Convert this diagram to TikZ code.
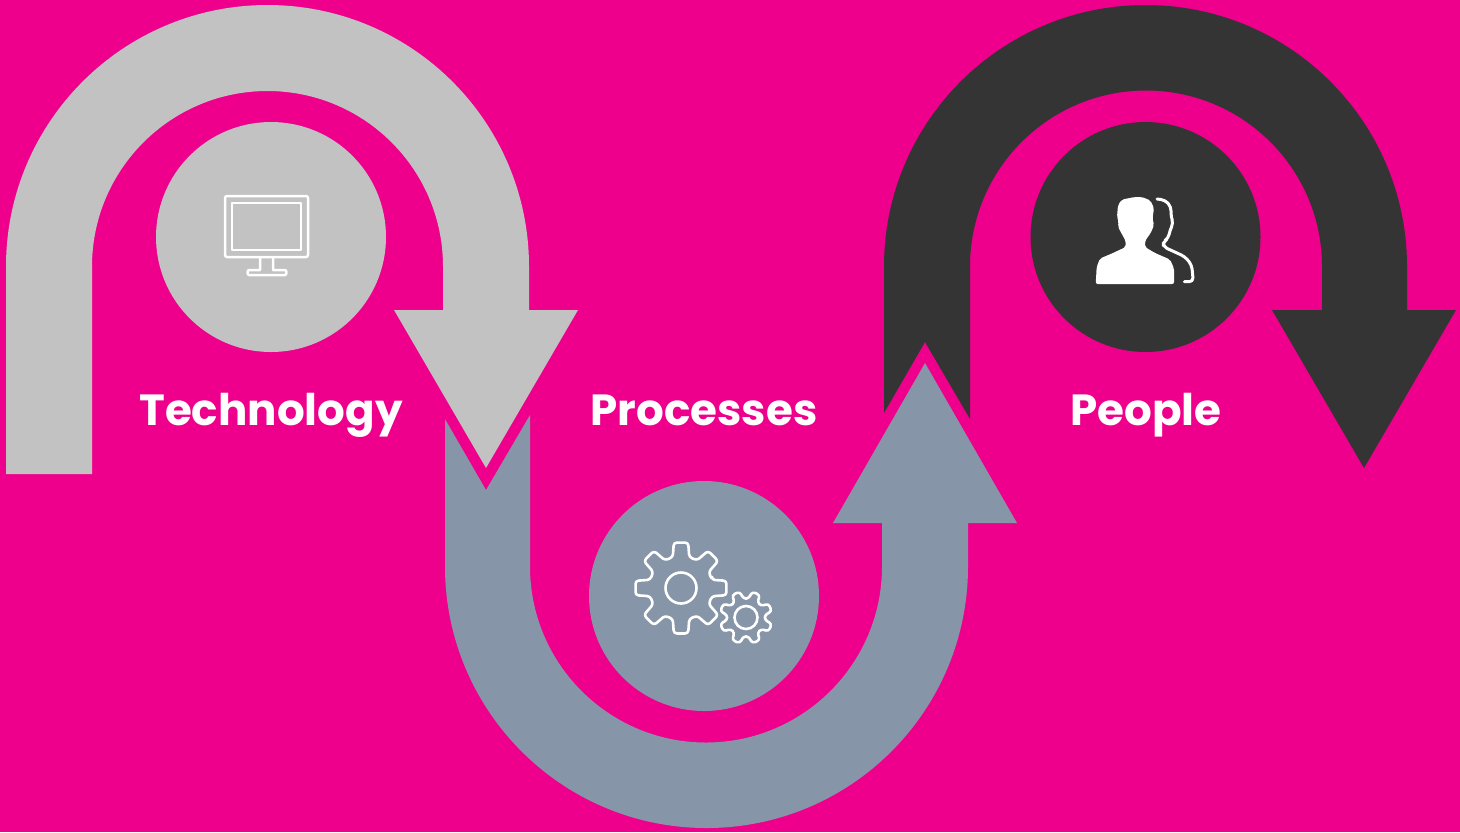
\documentclass[tikz,border=0pt]{standalone}
\usepackage{fontspec}
\setmainfont{Poppins}[BoldFont={Poppins Bold}]
\definecolor{bgpink}{HTML}{EE008C}
\definecolor{lightgrey}{HTML}{C2C2C2}
\definecolor{slateblue}{HTML}{8795A8}
\definecolor{charcoal}{HTML}{343434}
\tikzset{
  disc/.style={circle,minimum size=115pt,inner sep=0pt,fill=#1},
  lbl/.style={text=white,font=\fontsize{21.8}{25}\selectfont\bfseries,inner sep=0pt,anchor=base},
  icon/.style={draw=white,line width=1.25pt,line join=round,rounded corners=1pt},
  iconfine/.style={draw=white,line width=1.3pt,line join=round,line cap=round}
}
\newcommand{\gearpath}[5]{% centre, outer r, root r, teeth, phase
  \begin{scope}[shift={#1}]
    \pgfmathsetmacro{\stepang}{360/#4}
    \draw[iconfine,rounded corners=1.5pt]
      (#5-0.33*\stepang:#3) \foreach \k in {1,...,#4}{
        -- ({#5+(\k-1)*\stepang-0.2*\stepang}:#2)
        -- ({#5+(\k-1)*\stepang+0.2*\stepang}:#2)
        -- ({#5+(\k-1)*\stepang+0.33*\stepang}:#3)
        -- ({#5+\k*\stepang-0.33*\stepang}:#3)
      } -- cycle;
  \end{scope}}
\begin{document}
\begin{tikzpicture}[x=0.5pt,y=-0.5pt]
\useasboundingbox (0,0) rectangle (1460,832);
\fill[bgpink] (0,0) rectangle (1460,832);
% grey arrow
\fill[lightgrey] (6,474) -- (6,266.5) arc (180:360:261.5) -- (529,310) -- (578,310) -- (486,468) -- (394,310) -- (443,310) -- (443,266.5) arc (360:180:175.5) -- (92,474) -- cycle;
% blue arrow
\fill[slateblue] (445,419) -- (445,566.5) arc (180:0:261.5) -- (968,523) -- (1017,523) -- (925,363) -- (833,523) -- (882,523) -- (882,566.5) arc (0:180:176) -- (530,415) -- (486,490) -- cycle;
% dark arrow
\fill[charcoal] (884,413) -- (884,266.5) arc (180:360:261.5) -- (1407,310) -- (1456,310) -- (1364,468) -- (1272,310) -- (1322,310) -- (1322,266.5) arc (360:180:176) -- (970,419) -- (925,342) -- cycle;
% discs
\node[disc=lightgrey] (techdisc) at (271,237) {};
\node[disc=slateblue] (procdisc) at (704,596) {};
\node[disc=charcoal] (peopdisc) at (1145.5,237) {};
% labels
\node[lbl] (techlabel) at (271,425) {Technology};
\node[lbl] (proclabel) at (704,425) {Processes};
\node[lbl] (peoplabel) at (1146,425) {People};
% monitor
\draw[icon] (225,196) rectangle (308,257);
\draw[icon,rounded corners=0pt] (232,203) rectangle (301,250);
\draw[icon,rounded corners=0pt] (260,257) -- (260,270) -- (249,270) to[out=180,in=180] (249,275) -- (285,275) to[out=0,in=0] (285,270) -- (273,270) -- (273,257);
% gears
\gearpath{(681,588)}{46}{32}{8}{0}
\draw[iconfine] (681,588) circle (15.5);
\gearpath{(746,617.5)}{26.5}{19}{8}{22.5}
\draw[iconfine] (746,617.5) circle (11.5);
% people
\fill[white,rounded corners=1pt] (1135,197) -- (1122,199.5) -- (1118,205) -- (1117,216.7) -- (1118.5,221.7) -- (1118,226.7) -- (1121,232.5) -- (1125.7,241) -- (1125.7,247) -- (1113,253) -- (1100,258.5) -- (1096.7,266.7) -- (1095.7,284) -- (1174,284) -- (1174,268.3) -- (1170,259.5) -- (1155,253) -- (1145,247) -- (1145,241) -- (1151,232.5) -- (1154,225) -- (1152.5,218.3) -- (1154,208.3) -- (1150.5,200.5) -- (1142,197) -- cycle;
\draw[iconfine,line width=1.5pt,rounded corners=2pt] (1157,199) -- (1165,200) -- (1171,206.7) -- (1171,216.7) -- (1173.3,223.3) -- (1170,230) -- (1168.3,238.3) -- (1163.3,241.7) -- (1163.3,246.7) -- (1185,256.7) -- (1191.7,265) -- (1193.3,281.7) -- (1184.3,281.7);
\end{tikzpicture}
\end{document}
